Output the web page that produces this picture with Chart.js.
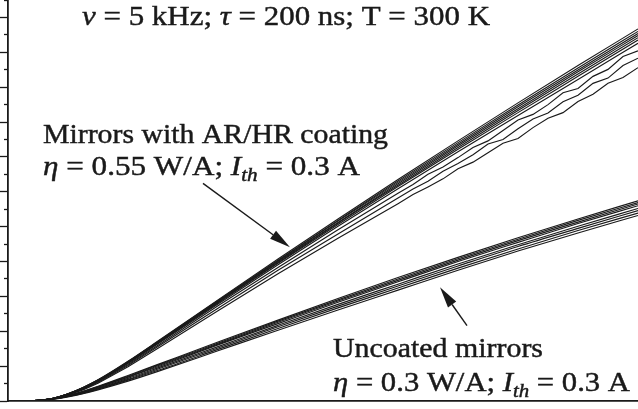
<!DOCTYPE html>
<html>
<head>
<meta charset="utf-8">
<script src="https://cdn.jsdelivr.net/npm/chart.js@4.4.1/dist/chart.umd.min.js"></script>
<style>
  html, body { margin: 0; padding: 0; background: #fff; }
  #chart { display: block; }
</style>
</head>
<body>
<canvas id="chart" width="638" height="409"></canvas>
<script>
// drive current (A) at which the curves were read
const currents = [0.1, 0.2, 0.25, 0.3, 0.35, 0.4, 0.5, 0.6, 0.8, 1.0, 1.2, 1.4, 1.6, 1.8, 2.0, 2.2]
// denser current steps for the noisy traces at high current
const noisyCurrents = [0.1, 0.2, 0.25, 0.3, 0.35, 0.4, 0.5, 0.6, 0.8, 1.0, 1.2,
  1.4, 1.45, 1.5, 1.55, 1.6, 1.65, 1.7, 1.75, 1.8, 1.85, 1.9, 1.95, 2.0, 2.05, 2.1, 2.15, 2.2]

// output power (W), mirrors with AR/HR coating
const coated1 = [0, 0.002, 0.008, 0.021, 0.039, 0.061, 0.114, 0.172, 0.290, 0.407, 0.522, 0.635, 0.746, 0.855, 0.962, 1.067]
const coated2 = [0, 0.002, 0.008, 0.021, 0.039, 0.060, 0.113, 0.171, 0.288, 0.404, 0.518, 0.631, 0.741, 0.849, 0.955, 1.060]
const coated3 = [0, 0.002, 0.008, 0.021, 0.038, 0.060, 0.112, 0.170, 0.286, 0.402, 0.516, 0.627, 0.736, 0.844, 0.949, 1.054]
const coated4 = [0, 0.002, 0.008, 0.020, 0.038, 0.059, 0.111, 0.168, 0.285, 0.400, 0.512, 0.623, 0.732, 0.838, 0.944, 1.048]
const coated5 = [0, 0.002, 0.008, 0.020, 0.037, 0.059, 0.110, 0.167, 0.283, 0.397, 0.510, 0.619, 0.727, 0.833, 0.938, 1.042]
const coated6 = [0, 0.002, 0.007, 0.020, 0.037, 0.058, 0.109, 0.166, 0.281, 0.395, 0.506, 0.615, 0.722, 0.827, 0.931, 1.035]
const coated7 = [0, 0.002, 0.007, 0.020, 0.036, 0.057, 0.108, 0.164, 0.278, 0.391, 0.501, 0.609, 0.715, 0.819, 0.922, 1.026]
const coated8 = [0, 0.001, 0.007, 0.019, 0.035, 0.055, 0.105, 0.160, 0.273, 0.383, 0.491,
  0.596, 0.621, 0.650, 0.671, 0.698, 0.727, 0.746, 0.776, 0.806, 0.822, 0.850, 0.884, 0.896, 0.931, 0.951, 0.988, 1.004]
const coated9 = [0, 0.001, 0.006, 0.018, 0.034, 0.053, 0.102, 0.156, 0.266, 0.375, 0.479,
  0.582, 0.608, 0.630, 0.659, 0.681, 0.706, 0.737, 0.750, 0.781, 0.809, 0.826, 0.858, 0.877, 0.911, 0.926, 0.962, 0.983]
const coated10 = [0, 0.001, 0.006, 0.017, 0.032, 0.051, 0.098, 0.151, 0.259, 0.365, 0.467,
  0.566, 0.592, 0.614, 0.637, 0.666, 0.685, 0.712, 0.739, 0.753, 0.784, 0.811, 0.827, 0.859, 0.880, 0.911, 0.928, 0.956]

// output power (W), uncoated mirrors
const uncoated1 = [0, 0.002, 0.007, 0.016, 0.028, 0.042, 0.073, 0.105, 0.169, 0.232, 0.294, 0.354, 0.412, 0.468, 0.522, 0.574]
const uncoated2 = [0, 0.002, 0.007, 0.016, 0.027, 0.041, 0.071, 0.103, 0.166, 0.229, 0.290, 0.350, 0.408, 0.464, 0.518, 0.569]
const uncoated3 = [0, 0.002, 0.007, 0.015, 0.026, 0.040, 0.069, 0.101, 0.163, 0.226, 0.287, 0.346, 0.404, 0.460, 0.513, 0.565]
const uncoated4 = [0, 0.002, 0.006, 0.015, 0.026, 0.039, 0.068, 0.098, 0.161, 0.222, 0.283, 0.342, 0.400, 0.455, 0.509, 0.560]
const uncoated5 = [0, 0.001, 0.006, 0.014, 0.024, 0.037, 0.065, 0.095, 0.156, 0.217, 0.277, 0.335, 0.393, 0.448, 0.501, 0.552]
const uncoated6 = [0, 0.001, 0.006, 0.013, 0.023, 0.035, 0.062, 0.092, 0.152, 0.213, 0.272, 0.330, 0.387, 0.443, 0.495, 0.546]
const uncoated7 = [0, 0.001, 0.005, 0.013, 0.022, 0.034, 0.060, 0.088, 0.148, 0.208, 0.267, 0.324, 0.381, 0.436, 0.489, 0.539]
const uncoated8 = [0, 0.001, 0.005, 0.012, 0.021, 0.032, 0.057, 0.085, 0.144, 0.203, 0.261, 0.318, 0.375, 0.430, 0.482, 0.532]

const smoothSeries = [coated1, coated2, coated3, coated4, coated5, coated6, coated7,
  uncoated1, uncoated2, uncoated3, uncoated4, uncoated5, uncoated6, uncoated7, uncoated8]
const noisySeries = [coated8, coated9, coated10]

// arrows in data units: [current, power]
const arrows = [
  { from: [0.75, 0.624], to: [1.04, 0.441] },
  { from: [1.63, 0.216], to: [1.54, 0.326] },
]

const serif = '"Liberation Serif", serif'
const labels = [
  { x: 82, y: 25, w: 408, parts: [{ t: 'ν', i: true }, { t: ' = 5 kHz; ' }, { t: 'τ', i: true }, { t: ' = 200 ns; T = 300 K' }] },
  { x: 43, y: 143, w: 345, parts: [{ t: 'Mirrors with AR/HR coating' }] },
  { x: 43, y: 175, w: 317, parts: [{ t: 'η', i: true }, { t: ' = 0.55 W/A; ' }, { t: 'I', i: true }, { t: 'th', i: true, sub: true }, { t: ' = 0.3 A' }] },
  { x: 333, y: 357, w: 210, parts: [{ t: 'Uncoated mirrors' }] },
  { x: 333, y: 391, w: 297, parts: [{ t: 'η', i: true }, { t: ' = 0.3 W/A; ' }, { t: 'I', i: true }, { t: 'th', i: true, sub: true }, { t: ' = 0.3 A' }] },
]

const ink = '#1a1a1a'

function toPoints(xs, ys) {
  return ys.map((p, i) => ({ x: xs[i], y: p }))
}

const datasets = []
smoothSeries.forEach(s => {
  datasets.push({
    data: toPoints(currents, s),
    borderColor: ink,
    borderWidth: 1.15,
    pointRadius: 0,
    cubicInterpolationMode: 'monotone',
  })
})
noisySeries.forEach(s => {
  datasets.push({
    data: toPoints(noisyCurrents, s),
    borderColor: ink,
    borderWidth: 1.15,
    pointRadius: 0,
    tension: 0,
  })
})

function partFont(p) {
  return (p.i ? 'italic ' : '') + (p.sub ? 19 : 28) + 'px ' + serif
}

function drawLabel(ctx, l) {
  let natural = 0
  l.parts.forEach(p => {
    ctx.font = partFont(p)
    natural += ctx.measureText(p.t).width
  })
  ctx.save()
  ctx.translate(l.x, l.y)
  ctx.scale(l.w / natural, 1)
  ctx.lineWidth = 0.45
  let cx = 0
  l.parts.forEach(p => {
    ctx.font = partFont(p)
    const dy = p.sub ? 6 : 0
    ctx.fillText(p.t, cx, dy)
    ctx.strokeText(p.t, cx, dy)
    cx += ctx.measureText(p.t).width
  })
  ctx.restore()
}

function drawArrow(ctx, x1, y1, x2, y2) {
  const ang = Math.atan2(y2 - y1, x2 - x1)
  const len = 21, half = 5
  const bx = x2 - len * Math.cos(ang), by = y2 - len * Math.sin(ang)
  ctx.beginPath()
  ctx.moveTo(x1, y1)
  ctx.lineTo(bx, by)
  ctx.lineWidth = 1.4
  ctx.stroke()
  ctx.beginPath()
  ctx.moveTo(x2, y2)
  ctx.lineTo(bx + half * Math.sin(ang), by - half * Math.cos(ang))
  ctx.lineTo(bx - half * Math.sin(ang), by + half * Math.cos(ang))
  ctx.closePath()
  ctx.fill()
}

const notes = {
  id: 'notes',
  afterDraw(chart) {
    const { ctx, scales: { x, y } } = chart
    ctx.save()
    ctx.fillStyle = ink
    ctx.strokeStyle = ink
    arrows.forEach(a => {
      drawArrow(ctx,
        x.getPixelForValue(a.from[0]), y.getPixelForValue(a.from[1]),
        x.getPixelForValue(a.to[0]), y.getPixelForValue(a.to[1]))
    })
    ctx.textBaseline = 'alphabetic'
    labels.forEach(l => drawLabel(ctx, l))
    ctx.restore()
  }
}

const isMinor = v => Math.round(v * 100) % 10 !== 0

new Chart(document.getElementById('chart'), {
  type: 'line',
  data: { datasets },
  options: {
    responsive: false,
    animation: false,
    layout: { padding: 0 },
    plugins: { legend: { display: false }, tooltip: { enabled: false } },
    scales: {
      x: {
        type: 'linear',
        min: 0.1,
        max: 2.2,
        ticks: { display: false },
        grid: { display: false },
        border: { display: true, color: ink, width: 1.8 },
      },
      y: {
        min: 0,
        max: 1.15,
        ticks: { display: false, stepSize: 0.05 },
        grid: {
          display: true,
          drawOnChartArea: false,
          drawTicks: true,
          tickLength: 8,
          tickWidth: 1.3,
          tickColor: ink,
          tickBorderDash: c => (c.tick && isMinor(c.tick.value)) ? [4, 4] : [],
          tickBorderDashOffset: c => (c.tick && isMinor(c.tick.value)) ? 4 : 0,
        },
        border: { display: true, color: ink, width: 1.8 },
      },
    },
  },
  plugins: [notes],
})
</script>
</body>
</html>
